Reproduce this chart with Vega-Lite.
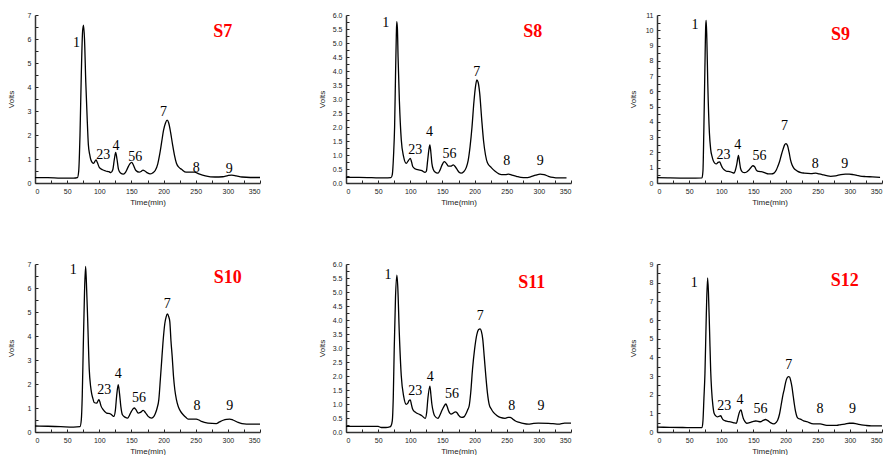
{
"$schema": "https://vega.github.io/schema/vega-lite/v6.json",
"padding": {"left": 7, "top": 11, "right": 0, "bottom": 0},
"background": "white",
"config": {
  "view": {"stroke": null},
  "axis": {"grid": false, "domainColor": "#333", "domainWidth": 1.5, "tickColor": "#222", "tickWidth": 1, "labelColor": "#222", "labelFont": "Liberation Sans", "labelFontSize": 7, "titleFont": "Liberation Sans", "titleFontSize": 8, "titleFontWeight": "normal", "titleColor": "#222"}
},
"datasets": {
"curves": [
{"panel":"S7","t":0,"v":0.22},{"panel":"S7","t":20,"v":0.22},{"panel":"S7","t":40,"v":0.2},{"panel":"S7","t":60,"v":0.2},{"panel":"S7","t":66,"v":0.22},{"panel":"S7","t":68,"v":0.5},{"panel":"S7","t":70,"v":2.0},{"panel":"S7","t":72,"v":4.5},{"panel":"S7","t":74,"v":6.3},{"panel":"S7","t":75.5,"v":6.58},{"panel":"S7","t":77,"v":6.0},{"panel":"S7","t":79,"v":4.2},{"panel":"S7","t":81,"v":2.8},{"panel":"S7","t":83,"v":1.6},{"panel":"S7","t":85,"v":1.2},{"panel":"S7","t":87,"v":0.96},{"panel":"S7","t":91,"v":0.82},{"panel":"S7","t":95,"v":0.96},{"panel":"S7","t":97,"v":0.85},{"panel":"S7","t":100,"v":0.65},{"panel":"S7","t":105,"v":0.55},{"panel":"S7","t":110,"v":0.5},{"panel":"S7","t":115,"v":0.47},{"panel":"S7","t":118,"v":0.43},{"panel":"S7","t":121,"v":0.55},{"panel":"S7","t":123.5,"v":1.0},{"panel":"S7","t":125.5,"v":1.27},{"panel":"S7","t":127.5,"v":1.0},{"panel":"S7","t":130,"v":0.56},{"panel":"S7","t":133,"v":0.42},{"panel":"S7","t":137.5,"v":0.37},{"panel":"S7","t":141,"v":0.45},{"panel":"S7","t":144,"v":0.62},{"panel":"S7","t":147.5,"v":0.8},{"panel":"S7","t":150.5,"v":0.86},{"panel":"S7","t":153,"v":0.75},{"panel":"S7","t":157,"v":0.52},{"panel":"S7","t":162,"v":0.45},{"panel":"S7","t":166,"v":0.5},{"panel":"S7","t":168,"v":0.54},{"panel":"S7","t":171,"v":0.5},{"panel":"S7","t":175,"v":0.42},{"panel":"S7","t":179,"v":0.38},{"panel":"S7","t":183,"v":0.42},{"panel":"S7","t":187,"v":0.52},{"panel":"S7","t":191,"v":0.8},{"panel":"S7","t":194,"v":1.2},{"panel":"S7","t":197,"v":1.7},{"panel":"S7","t":200,"v":2.2},{"panel":"S7","t":203,"v":2.5},{"panel":"S7","t":205.5,"v":2.62},{"panel":"S7","t":208,"v":2.5},{"panel":"S7","t":211,"v":2.1},{"panel":"S7","t":214,"v":1.6},{"panel":"S7","t":217,"v":1.15},{"panel":"S7","t":220,"v":0.82},{"panel":"S7","t":224,"v":0.65},{"panel":"S7","t":228,"v":0.57},{"panel":"S7","t":235,"v":0.45},{"panel":"S7","t":248,"v":0.45},{"panel":"S7","t":255,"v":0.38},{"panel":"S7","t":265,"v":0.3},{"panel":"S7","t":280,"v":0.25},{"panel":"S7","t":292,"v":0.26},{"panel":"S7","t":300,"v":0.31},{"panel":"S7","t":306,"v":0.33},{"panel":"S7","t":313,"v":0.3},{"panel":"S7","t":322,"v":0.25},{"panel":"S7","t":335,"v":0.23},{"panel":"S7","t":350,"v":0.23},
{"panel":"S8","t":0,"v":0.2},{"panel":"S8","t":20,"v":0.2},{"panel":"S8","t":40,"v":0.19},{"panel":"S8","t":60,"v":0.18},{"panel":"S8","t":70,"v":0.19},{"panel":"S8","t":72,"v":0.3},{"panel":"S8","t":74,"v":1.0},{"panel":"S8","t":75.6,"v":2.0},{"panel":"S8","t":77,"v":3.8},{"panel":"S8","t":78.3,"v":5.3},{"panel":"S8","t":79,"v":5.76},{"panel":"S8","t":80,"v":5.5},{"panel":"S8","t":81,"v":4.5},{"panel":"S8","t":83,"v":2.96},{"panel":"S8","t":86,"v":1.54},{"panel":"S8","t":89.6,"v":0.94},{"panel":"S8","t":93.7,"v":0.7},{"panel":"S8","t":97,"v":0.8},{"panel":"S8","t":100,"v":0.88},{"panel":"S8","t":102,"v":0.75},{"panel":"S8","t":104,"v":0.58},{"panel":"S8","t":108,"v":0.5},{"panel":"S8","t":113,"v":0.47},{"panel":"S8","t":118,"v":0.44},{"panel":"S8","t":123,"v":0.38},{"panel":"S8","t":125,"v":0.42},{"panel":"S8","t":127,"v":0.8},{"panel":"S8","t":129,"v":1.2},{"panel":"S8","t":130.5,"v":1.36},{"panel":"S8","t":132,"v":1.1},{"panel":"S8","t":133.6,"v":0.7},{"panel":"S8","t":136,"v":0.47},{"panel":"S8","t":138,"v":0.4},{"panel":"S8","t":143,"v":0.35},{"panel":"S8","t":146,"v":0.45},{"panel":"S8","t":149,"v":0.62},{"panel":"S8","t":152.8,"v":0.76},{"panel":"S8","t":156,"v":0.7},{"panel":"S8","t":159.5,"v":0.6},{"panel":"S8","t":163,"v":0.6},{"panel":"S8","t":167,"v":0.65},{"panel":"S8","t":170,"v":0.58},{"panel":"S8","t":173,"v":0.48},{"panel":"S8","t":176,"v":0.38},{"panel":"S8","t":179,"v":0.35},{"panel":"S8","t":183,"v":0.4},{"panel":"S8","t":187,"v":0.55},{"panel":"S8","t":190,"v":0.8},{"panel":"S8","t":193,"v":1.3},{"panel":"S8","t":196,"v":2.0},{"panel":"S8","t":199,"v":2.9},{"panel":"S8","t":201.5,"v":3.45},{"panel":"S8","t":203.5,"v":3.68},{"panel":"S8","t":205.5,"v":3.6},{"panel":"S8","t":208,"v":3.2},{"panel":"S8","t":211,"v":2.3},{"panel":"S8","t":214,"v":1.5},{"panel":"S8","t":217,"v":1.0},{"panel":"S8","t":220,"v":0.72},{"panel":"S8","t":226,"v":0.55},{"panel":"S8","t":232,"v":0.42},{"panel":"S8","t":242,"v":0.3},{"panel":"S8","t":248,"v":0.3},{"panel":"S8","t":253,"v":0.32},{"panel":"S8","t":258,"v":0.28},{"panel":"S8","t":265,"v":0.24},{"panel":"S8","t":272,"v":0.2},{"panel":"S8","t":280,"v":0.19},{"panel":"S8","t":287,"v":0.22},{"panel":"S8","t":295,"v":0.28},{"panel":"S8","t":302,"v":0.32},{"panel":"S8","t":308,"v":0.3},{"panel":"S8","t":315,"v":0.24},{"panel":"S8","t":322,"v":0.2},{"panel":"S8","t":330,"v":0.18},{"panel":"S8","t":343,"v":0.18},
{"panel":"S9","t":0,"v":0.35},{"panel":"S9","t":20,"v":0.33},{"panel":"S9","t":40,"v":0.32},{"panel":"S9","t":60,"v":0.32},{"panel":"S9","t":70,"v":0.33},{"panel":"S9","t":71.5,"v":0.8},{"panel":"S9","t":72.8,"v":3.3},{"panel":"S9","t":74.5,"v":7.5},{"panel":"S9","t":75.8,"v":10.3},{"panel":"S9","t":76.5,"v":10.65},{"panel":"S9","t":77.5,"v":9.5},{"panel":"S9","t":79,"v":6.5},{"panel":"S9","t":81.5,"v":3.3},{"panel":"S9","t":83.5,"v":2.2},{"panel":"S9","t":85.6,"v":1.74},{"panel":"S9","t":89.7,"v":1.3},{"panel":"S9","t":92.3,"v":1.25},{"panel":"S9","t":95,"v":1.35},{"panel":"S9","t":97.4,"v":1.38},{"panel":"S9","t":100,"v":1.15},{"panel":"S9","t":102,"v":0.98},{"panel":"S9","t":105,"v":0.85},{"panel":"S9","t":108.7,"v":0.76},{"panel":"S9","t":113,"v":0.75},{"panel":"S9","t":116.4,"v":0.7},{"panel":"S9","t":120,"v":0.65},{"panel":"S9","t":122,"v":0.85},{"panel":"S9","t":124,"v":1.2},{"panel":"S9","t":126.7,"v":1.8},{"panel":"S9","t":128.5,"v":1.35},{"panel":"S9","t":130,"v":0.95},{"panel":"S9","t":132.8,"v":0.72},{"panel":"S9","t":136,"v":0.68},{"panel":"S9","t":139.5,"v":0.72},{"panel":"S9","t":143,"v":0.85},{"panel":"S9","t":145.6,"v":0.98},{"panel":"S9","t":149,"v":1.13},{"panel":"S9","t":152,"v":1.05},{"panel":"S9","t":154.5,"v":0.85},{"panel":"S9","t":156.4,"v":0.78},{"panel":"S9","t":160,"v":0.75},{"panel":"S9","t":165,"v":0.72},{"panel":"S9","t":169,"v":0.65},{"panel":"S9","t":173,"v":0.6},{"panel":"S9","t":178,"v":0.6},{"panel":"S9","t":182,"v":0.65},{"panel":"S9","t":185.6,"v":0.85},{"panel":"S9","t":188,"v":1.1},{"panel":"S9","t":190.8,"v":1.42},{"panel":"S9","t":193.5,"v":1.85},{"panel":"S9","t":196,"v":2.2},{"panel":"S9","t":198.5,"v":2.5},{"panel":"S9","t":200.5,"v":2.58},{"panel":"S9","t":203,"v":2.45},{"panel":"S9","t":205.5,"v":2.0},{"panel":"S9","t":207.7,"v":1.52},{"panel":"S9","t":210,"v":1.2},{"panel":"S9","t":212.8,"v":0.98},{"panel":"S9","t":216,"v":0.85},{"panel":"S9","t":219,"v":0.76},{"panel":"S9","t":224,"v":0.68},{"panel":"S9","t":229,"v":0.65},{"panel":"S9","t":239.5,"v":0.62},{"panel":"S9","t":247,"v":0.65},{"panel":"S9","t":252,"v":0.6},{"panel":"S9","t":257,"v":0.55},{"panel":"S9","t":264,"v":0.48},{"panel":"S9","t":270,"v":0.44},{"panel":"S9","t":278,"v":0.47},{"panel":"S9","t":286,"v":0.55},{"panel":"S9","t":293,"v":0.58},{"panel":"S9","t":299,"v":0.58},{"panel":"S9","t":305,"v":0.55},{"panel":"S9","t":311,"v":0.5},{"panel":"S9","t":316,"v":0.45},{"panel":"S9","t":325,"v":0.42},{"panel":"S9","t":335,"v":0.4},{"panel":"S9","t":347,"v":0.37},
{"panel":"S10","t":0,"v":0.25},{"panel":"S10","t":20,"v":0.24},{"panel":"S10","t":40,"v":0.22},{"panel":"S10","t":60,"v":0.2},{"panel":"S10","t":70,"v":0.22},{"panel":"S10","t":72,"v":0.5},{"panel":"S10","t":73.5,"v":1.5},{"panel":"S10","t":75,"v":3.43},{"panel":"S10","t":77,"v":5.8},{"panel":"S10","t":78.7,"v":6.9},{"panel":"S10","t":80,"v":6.2},{"panel":"S10","t":81.8,"v":4.8},{"panel":"S10","t":84.4,"v":2.6},{"panel":"S10","t":86.5,"v":1.9},{"panel":"S10","t":88,"v":1.62},{"panel":"S10","t":90,"v":1.4},{"panel":"S10","t":92,"v":1.23},{"panel":"S10","t":95.8,"v":1.2},{"panel":"S10","t":99.4,"v":1.35},{"panel":"S10","t":101,"v":1.25},{"panel":"S10","t":102.5,"v":1.1},{"panel":"S10","t":106,"v":0.93},{"panel":"S10","t":111.3,"v":0.79},{"panel":"S10","t":116.5,"v":0.77},{"panel":"S10","t":120,"v":0.7},{"panel":"S10","t":122.7,"v":0.65},{"panel":"S10","t":125,"v":0.9},{"panel":"S10","t":127,"v":1.5},{"panel":"S10","t":129.5,"v":1.97},{"panel":"S10","t":131.5,"v":1.6},{"panel":"S10","t":133.6,"v":1.05},{"panel":"S10","t":136,"v":0.72},{"panel":"S10","t":140,"v":0.62},{"panel":"S10","t":144,"v":0.58},{"panel":"S10","t":147,"v":0.7},{"panel":"S10","t":150,"v":0.86},{"panel":"S10","t":154.3,"v":1.0},{"panel":"S10","t":157,"v":0.93},{"panel":"S10","t":160.5,"v":0.79},{"panel":"S10","t":164,"v":0.82},{"panel":"S10","t":168.3,"v":0.9},{"panel":"S10","t":172,"v":0.8},{"panel":"S10","t":176,"v":0.65},{"panel":"S10","t":181.3,"v":0.58},{"panel":"S10","t":185,"v":0.65},{"panel":"S10","t":187.5,"v":0.79},{"panel":"S10","t":190,"v":1.0},{"panel":"S10","t":192.6,"v":1.35},{"panel":"S10","t":195,"v":2.2},{"panel":"S10","t":196.8,"v":2.87},{"panel":"S10","t":199,"v":3.7},{"panel":"S10","t":202,"v":4.53},{"panel":"S10","t":204,"v":4.8},{"panel":"S10","t":206,"v":4.92},{"panel":"S10","t":208,"v":4.8},{"panel":"S10","t":209.7,"v":4.6},{"panel":"S10","t":211.5,"v":3.8},{"panel":"S10","t":213.4,"v":3.15},{"panel":"S10","t":215.5,"v":2.3},{"panel":"S10","t":217.5,"v":1.76},{"panel":"S10","t":220,"v":1.35},{"panel":"S10","t":222.7,"v":1.07},{"panel":"S10","t":226,"v":0.88},{"panel":"S10","t":230.5,"v":0.72},{"panel":"S10","t":235,"v":0.6},{"panel":"S10","t":238,"v":0.54},{"panel":"S10","t":251,"v":0.54},{"panel":"S10","t":255,"v":0.5},{"panel":"S10","t":259,"v":0.44},{"panel":"S10","t":269,"v":0.37},{"panel":"S10","t":282,"v":0.35},{"panel":"S10","t":287,"v":0.42},{"panel":"S10","t":292.6,"v":0.49},{"panel":"S10","t":298,"v":0.53},{"panel":"S10","t":303,"v":0.54},{"panel":"S10","t":308,"v":0.5},{"panel":"S10","t":316,"v":0.4},{"panel":"S10","t":322,"v":0.35},{"panel":"S10","t":329,"v":0.33},{"panel":"S10","t":340,"v":0.33},{"panel":"S10","t":350,"v":0.33},
{"panel":"S11","t":0,"v":0.2},{"panel":"S11","t":20,"v":0.2},{"panel":"S11","t":40,"v":0.2},{"panel":"S11","t":50,"v":0.2},{"panel":"S11","t":55,"v":0.16},{"panel":"S11","t":62,"v":0.16},{"panel":"S11","t":68,"v":0.18},{"panel":"S11","t":70,"v":0.22},{"panel":"S11","t":72,"v":0.4},{"panel":"S11","t":73.5,"v":1.2},{"panel":"S11","t":75,"v":2.95},{"panel":"S11","t":77,"v":4.8},{"panel":"S11","t":79.2,"v":5.6},{"panel":"S11","t":80.5,"v":5.2},{"panel":"S11","t":82.9,"v":3.54},{"panel":"S11","t":86,"v":2.0},{"panel":"S11","t":89.6,"v":1.29},{"panel":"S11","t":93.7,"v":0.99},{"panel":"S11","t":96,"v":1.02},{"panel":"S11","t":98,"v":1.12},{"panel":"S11","t":100,"v":1.15},{"panel":"S11","t":101.8,"v":0.98},{"panel":"S11","t":103.6,"v":0.82},{"panel":"S11","t":107,"v":0.72},{"panel":"S11","t":110.3,"v":0.67},{"panel":"S11","t":115,"v":0.62},{"panel":"S11","t":118,"v":0.58},{"panel":"S11","t":123.3,"v":0.49},{"panel":"S11","t":125.5,"v":0.7},{"panel":"S11","t":127.4,"v":1.2},{"panel":"S11","t":130.5,"v":1.64},{"panel":"S11","t":132,"v":1.35},{"panel":"S11","t":133.6,"v":0.99},{"panel":"S11","t":136,"v":0.7},{"panel":"S11","t":137.8,"v":0.58},{"panel":"S11","t":143,"v":0.49},{"panel":"S11","t":146,"v":0.6},{"panel":"S11","t":149,"v":0.76},{"panel":"S11","t":152,"v":0.9},{"panel":"S11","t":155.4,"v":1.0},{"panel":"S11","t":157.5,"v":0.9},{"panel":"S11","t":159.5,"v":0.76},{"panel":"S11","t":163.6,"v":0.64},{"panel":"S11","t":167,"v":0.68},{"panel":"S11","t":170,"v":0.72},{"panel":"S11","t":173,"v":0.68},{"panel":"S11","t":175,"v":0.6},{"panel":"S11","t":180,"v":0.52},{"panel":"S11","t":184,"v":0.55},{"panel":"S11","t":186.4,"v":0.64},{"panel":"S11","t":189,"v":0.78},{"panel":"S11","t":191.6,"v":0.93},{"panel":"S11","t":194,"v":1.4},{"panel":"S11","t":196.8,"v":2.24},{"panel":"S11","t":200,"v":2.95},{"panel":"S11","t":203.5,"v":3.48},{"panel":"S11","t":206,"v":3.65},{"panel":"S11","t":208.7,"v":3.68},{"panel":"S11","t":210.5,"v":3.6},{"panel":"S11","t":212.8,"v":3.3},{"panel":"S11","t":215,"v":2.7},{"panel":"S11","t":217.5,"v":2.0},{"panel":"S11","t":220,"v":1.4},{"panel":"S11","t":222.7,"v":0.99},{"panel":"S11","t":226,"v":0.82},{"panel":"S11","t":229.4,"v":0.7},{"panel":"S11","t":234,"v":0.6},{"panel":"S11","t":239.8,"v":0.52},{"panel":"S11","t":247.5,"v":0.49},{"panel":"S11","t":252,"v":0.52},{"panel":"S11","t":255.3,"v":0.52},{"panel":"S11","t":259,"v":0.47},{"panel":"S11","t":263,"v":0.4},{"panel":"S11","t":268,"v":0.35},{"panel":"S11","t":273.4,"v":0.32},{"panel":"S11","t":283.8,"v":0.28},{"panel":"S11","t":290,"v":0.3},{"panel":"S11","t":299,"v":0.32},{"panel":"S11","t":315,"v":0.31},{"panel":"S11","t":322,"v":0.3},{"panel":"S11","t":330.4,"v":0.28},{"panel":"S11","t":340,"v":0.32},{"panel":"S11","t":350,"v":0.32},
{"panel":"S12","t":0,"v":0.26},{"panel":"S12","t":20,"v":0.25},{"panel":"S12","t":40,"v":0.24},{"panel":"S12","t":60,"v":0.23},{"panel":"S12","t":70,"v":0.23},{"panel":"S12","t":71.5,"v":0.6},{"panel":"S12","t":73,"v":1.8},{"panel":"S12","t":74.6,"v":3.15},{"panel":"S12","t":76.5,"v":6.0},{"panel":"S12","t":78.7,"v":8.25},{"panel":"S12","t":80,"v":7.5},{"panel":"S12","t":81.8,"v":5.4},{"panel":"S12","t":83.5,"v":3.3},{"panel":"S12","t":84.9,"v":2.28},{"panel":"S12","t":87,"v":1.4},{"panel":"S12","t":89,"v":0.99},{"panel":"S12","t":92,"v":0.85},{"panel":"S12","t":94.2,"v":0.81},{"panel":"S12","t":97,"v":0.85},{"panel":"S12","t":99.3,"v":0.87},{"panel":"S12","t":101,"v":0.75},{"panel":"S12","t":103.4,"v":0.64},{"panel":"S12","t":108,"v":0.58},{"panel":"S12","t":112.2,"v":0.55},{"panel":"S12","t":117,"v":0.52},{"panel":"S12","t":120,"v":0.49},{"panel":"S12","t":123.5,"v":0.47},{"panel":"S12","t":125.5,"v":0.7},{"panel":"S12","t":127.6,"v":1.0},{"panel":"S12","t":130.7,"v":1.19},{"panel":"S12","t":132.5,"v":0.95},{"panel":"S12","t":134.3,"v":0.72},{"panel":"S12","t":137,"v":0.55},{"panel":"S12","t":139.5,"v":0.47},{"panel":"S12","t":145.6,"v":0.52},{"panel":"S12","t":150,"v":0.57},{"panel":"S12","t":153.4,"v":0.59},{"panel":"S12","t":157,"v":0.57},{"panel":"S12","t":161,"v":0.55},{"panel":"S12","t":165,"v":0.62},{"panel":"S12","t":168.8,"v":0.67},{"panel":"S12","t":172,"v":0.62},{"panel":"S12","t":176.5,"v":0.5},{"panel":"S12","t":181.7,"v":0.43},{"panel":"S12","t":185,"v":0.5},{"panel":"S12","t":187.8,"v":0.64},{"panel":"S12","t":190.5,"v":0.95},{"panel":"S12","t":193,"v":1.42},{"panel":"S12","t":196,"v":2.0},{"panel":"S12","t":198,"v":2.3},{"panel":"S12","t":200,"v":2.65},{"panel":"S12","t":202.3,"v":2.89},{"panel":"S12","t":204.5,"v":2.97},{"panel":"S12","t":206.4,"v":2.94},{"panel":"S12","t":208,"v":2.75},{"panel":"S12","t":210,"v":2.4},{"panel":"S12","t":212,"v":1.9},{"panel":"S12","t":213.6,"v":1.5},{"panel":"S12","t":215.5,"v":1.1},{"panel":"S12","t":217.7,"v":0.82},{"panel":"S12","t":220,"v":0.72},{"panel":"S12","t":222.9,"v":0.69},{"panel":"S12","t":228,"v":0.6},{"panel":"S12","t":233,"v":0.55},{"panel":"S12","t":243.4,"v":0.43},{"panel":"S12","t":253.7,"v":0.43},{"panel":"S12","t":264,"v":0.35},{"panel":"S12","t":279.5,"v":0.35},{"panel":"S12","t":286,"v":0.4},{"panel":"S12","t":292.3,"v":0.42},{"panel":"S12","t":299,"v":0.47},{"panel":"S12","t":305,"v":0.47},{"panel":"S12","t":311,"v":0.43},{"panel":"S12","t":318,"v":0.38},{"panel":"S12","t":325,"v":0.35},{"panel":"S12","t":333.5,"v":0.33},{"panel":"S12","t":350,"v":0.33}
],
"peaks": [
{"panel":"S7","t":64.6,"v":5.85,"label":"1"},{"panel":"S7","t":106,"v":1.17,"label":"23"},{"panel":"S7","t":126,"v":1.55,"label":"4"},{"panel":"S7","t":156,"v":1.1,"label":"56"},{"panel":"S7","t":200,"v":2.97,"label":"7"},{"panel":"S7","t":251,"v":0.61,"label":"8"},{"panel":"S7","t":302,"v":0.57,"label":"9"},
{"panel":"S8","t":62,"v":5.73,"label":"1"},{"panel":"S8","t":107.7,"v":1.18,"label":"23"},{"panel":"S8","t":130,"v":1.83,"label":"4"},{"panel":"S8","t":161,"v":1.04,"label":"56"},{"panel":"S8","t":203.5,"v":3.98,"label":"7"},{"panel":"S8","t":250,"v":0.8,"label":"8"},{"panel":"S8","t":302,"v":0.8,"label":"9"},
{"panel":"S9","t":59,"v":10.35,"label":"1"},{"panel":"S9","t":103.6,"v":1.85,"label":"23"},{"panel":"S9","t":125.6,"v":2.46,"label":"4"},{"panel":"S9","t":159.5,"v":1.74,"label":"56"},{"panel":"S9","t":198.5,"v":3.7,"label":"7"},{"panel":"S9","t":246,"v":1.24,"label":"8"},{"panel":"S9","t":292,"v":1.24,"label":"9"},
{"panel":"S10","t":59.6,"v":6.73,"label":"1"},{"panel":"S10","t":107.7,"v":1.73,"label":"23"},{"panel":"S10","t":129.5,"v":2.43,"label":"4"},{"panel":"S10","t":161.6,"v":1.41,"label":"56"},{"panel":"S10","t":205.6,"v":5.34,"label":"7"},{"panel":"S10","t":252,"v":1.07,"label":"8"},{"panel":"S10","t":303,"v":1.07,"label":"9"},
{"panel":"S11","t":65.3,"v":5.61,"label":"1"},{"panel":"S11","t":107.7,"v":1.47,"label":"23"},{"panel":"S11","t":131,"v":1.96,"label":"4"},{"panel":"S11","t":164.7,"v":1.35,"label":"56"},{"panel":"S11","t":208.7,"v":4.13,"label":"7"},{"panel":"S11","t":258,"v":0.93,"label":"8"},{"panel":"S11","t":303.5,"v":0.93,"label":"9"},
{"panel":"S12","t":58,"v":8.0,"label":"1"},{"panel":"S12","t":104.5,"v":1.37,"label":"23"},{"panel":"S12","t":129,"v":1.73,"label":"4"},{"panel":"S12","t":161,"v":1.25,"label":"56"},{"panel":"S12","t":204.8,"v":3.58,"label":"7"},{"panel":"S12","t":253.7,"v":1.25,"label":"8"},{"panel":"S12","t":304,"v":1.25,"label":"9"}
],
"titles": [
{"panel":"S7","t":292,"v":6.28,"label":"S7"},{"panel":"S8","t":290.5,"v":5.38,"label":"S8"},{"panel":"S9","t":285.6,"v":9.7,"label":"S9"},{"panel":"S10","t":300,"v":6.4,"label":"S10"},{"panel":"S11","t":289,"v":5.31,"label":"S11"},{"panel":"S12","t":292,"v":8.08,"label":"S12"}
]
},
"columns": 3,
"spacing": {"row": 81, "column": 86},
"bounds": "flush",
"concat": [
{"width": 225, "height": 168,
 "encoding": {
  "x": {"field": "t", "type": "quantitative", "scale": {"domain": [0, 350], "nice": false}, "axis": {"title": "Time(min)", "titlePadding": 4, "values": [0,25,50,75,100,125,150,175,200,225,250,275,300,325,350], "labelExpr": "datum.value % 50 === 0 ? datum.label : ''", "tickSize": -3, "labelPadding": 7}},
  "y": {"field": "v", "type": "quantitative", "scale": {"domain": [0, 7], "nice": false}, "axis": {"title": "Volts", "values": [0,0.5,1,1.5,2,2.5,3,3.5,4,4.5,5,5.5,6,6.5,7], "labelExpr": "datum.value % 1 === 0 ? format(datum.value, 'd') : ''", "tickSize": -3, "labelPadding": 7, "minExtent": 16, "maxExtent": 16, "titlePadding": 4}}
 },
 "layer": [
  {"data": {"name": "curves"}, "transform": [{"filter": "datum.panel === 'S7'"}], "mark": {"type": "line", "color": "black", "strokeWidth": 1.3, "interpolate": "monotone"}, "encoding": {}},
  {"data": {"name": "peaks"}, "transform": [{"filter": "datum.panel === 'S7'"}], "mark": {"type": "text", "font": "Liberation Serif", "fontSize": 14, "color": "black"}, "encoding": {"text": {"field": "label"}}},
  {"data": {"name": "titles"}, "transform": [{"filter": "datum.panel === 'S7'"}], "mark": {"type": "text", "font": "Liberation Serif", "fontSize": 18, "fontWeight": "bold", "color": "#ff0000"}, "encoding": {"text": {"field": "label"}}}
 ]
},
{"width": 225, "height": 168,
 "encoding": {
  "x": {"field": "t", "type": "quantitative", "scale": {"domain": [0, 350], "nice": false}, "axis": {"title": "Time(min)", "titlePadding": 4, "values": [0,25,50,75,100,125,150,175,200,225,250,275,300,325,350], "labelExpr": "datum.value % 50 === 0 ? datum.label : ''", "tickSize": -3, "labelPadding": 7}},
  "y": {"field": "v", "type": "quantitative", "scale": {"domain": [0, 6], "nice": false}, "axis": {"title": "Volts", "values": [0,0.25,0.5,0.75,1,1.25,1.5,1.75,2,2.25,2.5,2.75,3,3.25,3.5,3.75,4,4.25,4.5,4.75,5,5.25,5.5,5.75,6], "labelExpr": "datum.value % 0.5 === 0 ? format(datum.value, '.1f') : ''", "tickSize": -3, "labelPadding": 7, "minExtent": 16, "maxExtent": 16, "titlePadding": 4}}
 },
 "layer": [
  {"data": {"name": "curves"}, "transform": [{"filter": "datum.panel === 'S8'"}], "mark": {"type": "line", "color": "black", "strokeWidth": 1.3, "interpolate": "monotone"}, "encoding": {}},
  {"data": {"name": "peaks"}, "transform": [{"filter": "datum.panel === 'S8'"}], "mark": {"type": "text", "font": "Liberation Serif", "fontSize": 14, "color": "black"}, "encoding": {"text": {"field": "label"}}},
  {"data": {"name": "titles"}, "transform": [{"filter": "datum.panel === 'S8'"}], "mark": {"type": "text", "font": "Liberation Serif", "fontSize": 18, "fontWeight": "bold", "color": "#ff0000"}, "encoding": {"text": {"field": "label"}}}
 ]
},
{"width": 225, "height": 168,
 "encoding": {
  "x": {"field": "t", "type": "quantitative", "scale": {"domain": [0, 350], "nice": false}, "axis": {"title": "Time(min)", "titlePadding": 4, "values": [0,25,50,75,100,125,150,175,200,225,250,275,300,325,350], "labelExpr": "datum.value % 50 === 0 ? datum.label : ''", "tickSize": -3, "labelPadding": 7, "labelFlush": true}},
  "y": {"field": "v", "type": "quantitative", "scale": {"domain": [0, 11], "nice": false}, "axis": {"title": "Volts", "values": [0,0.5,1,1.5,2,2.5,3,3.5,4,4.5,5,5.5,6,6.5,7,7.5,8,8.5,9,9.5,10,10.5,11], "labelExpr": "datum.value % 1 === 0 ? format(datum.value, 'd') : ''", "tickSize": -3, "labelPadding": 7, "minExtent": 16, "maxExtent": 16, "titlePadding": 4}}
 },
 "layer": [
  {"data": {"name": "curves"}, "transform": [{"filter": "datum.panel === 'S9'"}], "mark": {"type": "line", "color": "black", "strokeWidth": 1.3, "interpolate": "monotone"}, "encoding": {}},
  {"data": {"name": "peaks"}, "transform": [{"filter": "datum.panel === 'S9'"}], "mark": {"type": "text", "font": "Liberation Serif", "fontSize": 14, "color": "black"}, "encoding": {"text": {"field": "label"}}},
  {"data": {"name": "titles"}, "transform": [{"filter": "datum.panel === 'S9'"}], "mark": {"type": "text", "font": "Liberation Serif", "fontSize": 18, "fontWeight": "bold", "color": "#ff0000"}, "encoding": {"text": {"field": "label"}}}
 ]
},
{"width": 225, "height": 168,
 "encoding": {
  "x": {"field": "t", "type": "quantitative", "scale": {"domain": [0, 350], "nice": false}, "axis": {"title": "Time(min)", "titlePadding": 4, "values": [0,25,50,75,100,125,150,175,200,225,250,275,300,325,350], "labelExpr": "datum.value % 50 === 0 ? datum.label : ''", "tickSize": -3, "labelPadding": 7}},
  "y": {"field": "v", "type": "quantitative", "scale": {"domain": [0, 7], "nice": false}, "axis": {"title": "Volts", "values": [0,0.5,1,1.5,2,2.5,3,3.5,4,4.5,5,5.5,6,6.5,7], "labelExpr": "datum.value % 1 === 0 ? format(datum.value, 'd') : ''", "tickSize": -3, "labelPadding": 7, "minExtent": 16, "maxExtent": 16, "titlePadding": 4}}
 },
 "layer": [
  {"data": {"name": "curves"}, "transform": [{"filter": "datum.panel === 'S10'"}], "mark": {"type": "line", "color": "black", "strokeWidth": 1.3, "interpolate": "monotone"}, "encoding": {}},
  {"data": {"name": "peaks"}, "transform": [{"filter": "datum.panel === 'S10'"}], "mark": {"type": "text", "font": "Liberation Serif", "fontSize": 14, "color": "black"}, "encoding": {"text": {"field": "label"}}},
  {"data": {"name": "titles"}, "transform": [{"filter": "datum.panel === 'S10'"}], "mark": {"type": "text", "font": "Liberation Serif", "fontSize": 18, "fontWeight": "bold", "color": "#ff0000"}, "encoding": {"text": {"field": "label"}}}
 ]
},
{"width": 225, "height": 168,
 "encoding": {
  "x": {"field": "t", "type": "quantitative", "scale": {"domain": [0, 350], "nice": false}, "axis": {"title": "Time(min)", "titlePadding": 4, "values": [0,25,50,75,100,125,150,175,200,225,250,275,300,325,350], "labelExpr": "datum.value % 50 === 0 ? datum.label : ''", "tickSize": -3, "labelPadding": 7}},
  "y": {"field": "v", "type": "quantitative", "scale": {"domain": [0, 6], "nice": false}, "axis": {"title": "Volts", "values": [0,0.25,0.5,0.75,1,1.25,1.5,1.75,2,2.25,2.5,2.75,3,3.25,3.5,3.75,4,4.25,4.5,4.75,5,5.25,5.5,5.75,6], "labelExpr": "datum.value % 0.5 === 0 ? format(datum.value, '.1f') : ''", "tickSize": -3, "labelPadding": 7, "minExtent": 16, "maxExtent": 16, "titlePadding": 4}}
 },
 "layer": [
  {"data": {"name": "curves"}, "transform": [{"filter": "datum.panel === 'S11'"}], "mark": {"type": "line", "color": "black", "strokeWidth": 1.3, "interpolate": "monotone"}, "encoding": {}},
  {"data": {"name": "peaks"}, "transform": [{"filter": "datum.panel === 'S11'"}], "mark": {"type": "text", "font": "Liberation Serif", "fontSize": 14, "color": "black"}, "encoding": {"text": {"field": "label"}}},
  {"data": {"name": "titles"}, "transform": [{"filter": "datum.panel === 'S11'"}], "mark": {"type": "text", "font": "Liberation Serif", "fontSize": 18, "fontWeight": "bold", "color": "#ff0000"}, "encoding": {"text": {"field": "label"}}}
 ]
},
{"width": 225, "height": 168,
 "encoding": {
  "x": {"field": "t", "type": "quantitative", "scale": {"domain": [0, 350], "nice": false}, "axis": {"title": "Time(min)", "titlePadding": 4, "values": [0,25,50,75,100,125,150,175,200,225,250,275,300,325,350], "labelExpr": "datum.value % 50 === 0 ? datum.label : ''", "tickSize": -3, "labelPadding": 7, "labelFlush": true}},
  "y": {"field": "v", "type": "quantitative", "scale": {"domain": [0, 9], "nice": false}, "axis": {"title": "Volts", "values": [0,0.5,1,1.5,2,2.5,3,3.5,4,4.5,5,5.5,6,6.5,7,7.5,8,8.5,9], "labelExpr": "datum.value % 1 === 0 ? format(datum.value, 'd') : ''", "tickSize": -3, "labelPadding": 7, "minExtent": 16, "maxExtent": 16, "titlePadding": 4}}
 },
 "layer": [
  {"data": {"name": "curves"}, "transform": [{"filter": "datum.panel === 'S12'"}], "mark": {"type": "line", "color": "black", "strokeWidth": 1.3, "interpolate": "monotone"}, "encoding": {}},
  {"data": {"name": "peaks"}, "transform": [{"filter": "datum.panel === 'S12'"}], "mark": {"type": "text", "font": "Liberation Serif", "fontSize": 14, "color": "black"}, "encoding": {"text": {"field": "label"}}},
  {"data": {"name": "titles"}, "transform": [{"filter": "datum.panel === 'S12'"}], "mark": {"type": "text", "font": "Liberation Serif", "fontSize": 18, "fontWeight": "bold", "color": "#ff0000"}, "encoding": {"text": {"field": "label"}}}
 ]
}
]
}
